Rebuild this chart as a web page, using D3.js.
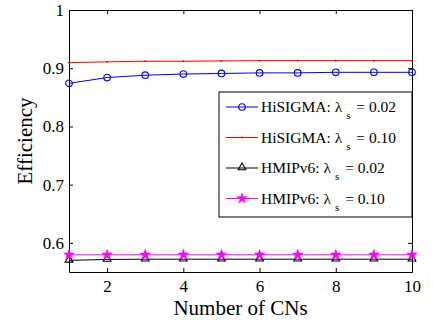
<!DOCTYPE html>
<html>
<head>
<meta charset="utf-8">
<script src="https://cdn.jsdelivr.net/npm/d3@7"></script>
<style>
  body { margin: 0; background: #fff; }
  svg { display: block; }
  text { font-family: "Liberation Serif", "Times New Roman", serif; fill: #000; }
</style>
</head>
<body>
<div id="chart"></div>
<script>
// data
const cns = [1, 2, 3, 4, 5, 6, 7, 8, 9, 10];
const hisigma002 = [0.874, 0.884, 0.888, 0.890, 0.891, 0.892, 0.892, 0.893, 0.893, 0.893];
const hisigma010 = [0.9095, 0.911, 0.912, 0.912, 0.9125, 0.913, 0.913, 0.913, 0.913, 0.913];
const hmip002 = [0.570, 0.5715, 0.572, 0.572, 0.572, 0.572, 0.572, 0.572, 0.572, 0.572];
const hmip010 = [0.5795, 0.5795, 0.5795, 0.5795, 0.5795, 0.5795, 0.5795, 0.5795, 0.5795, 0.5795];

const xTicks = [2, 4, 6, 8, 10];
const yTicks = [0.6, 0.7, 0.8, 0.9, 1];
const yTickLabels = ["0.6", "0.7", "0.8", "0.9", "1"];

const seriesNames = ["HiSIGMA", "HiSIGMA", "HMIPv6", "HMIPv6"];
const seriesLambdas = ["0.02", "0.10", "0.02", "0.10"];

const W = 433, H = 320;
const margin = { top: 10, right: 21, bottom: 48, left: 69 };
const width = W - margin.left - margin.right,
    height = H - margin.top - margin.bottom;

const svg = d3.select('#chart').append('svg')
    .attr('width', W)
    .attr('height', H);

const main = svg.append('g')
    .attr('transform', 'translate(' + margin.left + ',' + margin.top + ')');

const x = d3.scaleLinear().domain([1, 10]).range([0, width]);
const y = d3.scaleLinear().domain([0.55, 1]).range([height, 0]);

// axes: ticks point inward, box all round like matlab
const tick = 4;
const styleAxis = g => {
    g.select('.domain').attr('stroke', '#000').attr('stroke-width', 1);
    g.selectAll('.tick line').attr('stroke', '#000');
    g.selectAll('.tick text').style('font-size', '17px').attr('fill', '#000')
        .style('font-family', '"Liberation Serif", serif');
};

main.append('g')
    .attr('transform', 'translate(0,' + height + ')')
    .call(d3.axisBottom(x).tickValues(xTicks).tickSizeInner(-tick).tickSizeOuter(0).tickPadding(8))
    .call(styleAxis);

main.append('g')
    .call(d3.axisTop(x).tickValues(xTicks).tickSizeInner(-tick).tickSizeOuter(0).tickFormat(''))
    .call(styleAxis);

main.append('g')
    .call(d3.axisLeft(y).tickValues(yTicks).tickSizeInner(-tick).tickSizeOuter(0).tickPadding(5)
        .tickFormat((d, i) => yTickLabels[i]))
    .call(styleAxis);

main.append('g')
    .attr('transform', 'translate(' + width + ',0)')
    .call(d3.axisRight(y).tickValues(yTicks).tickSizeInner(-tick).tickSizeOuter(0).tickFormat(''))
    .call(styleAxis);

// series
const series = [
    { vals: hisigma002, color: '#0000ff', marker: 'circle' },
    { vals: hisigma010, color: '#ff0000', marker: 'point' },
    { vals: hmip002, color: '#000000', marker: 'triangle' },
    { vals: hmip010, color: '#ff00ff', marker: 'star' }
];

const line = d3.line()
    .x((d, i) => x(cns[i]))
    .y(d => y(d));

function drawMarker(g, kind, color, cx, cy) {
    if (kind === 'circle') {
        g.append('circle').attr('cx', cx).attr('cy', cy).attr('r', 3.3)
            .attr('fill', 'none').attr('stroke', color).attr('stroke-width', 1.1);
    } else if (kind === 'point') {
        g.append('circle').attr('cx', cx).attr('cy', cy).attr('r', 1)
            .attr('fill', color);
    } else if (kind === 'triangle') {
        g.append('path').attr('d', d3.symbol(d3.symbolTriangle, 26)())
            .attr('transform', 'translate(' + cx + ',' + (cy - 0.5) + ')')
            .attr('fill', 'none').attr('stroke', color).attr('stroke-width', 1.1);
    } else if (kind === 'star') {
        g.append('path').attr('d', d3.symbol(d3.symbolStar, 34)())
            .attr('transform', 'translate(' + cx + ',' + cy + ')')
            .attr('fill', color).attr('stroke', color).attr('stroke-width', 0.6);
    }
}

series.forEach(s => {
    main.append('path')
        .datum(s.vals)
        .attr('d', line)
        .attr('fill', 'none')
        .attr('stroke', s.color)
        .attr('stroke-width', 1);
    const mg = main.append('g');
    s.vals.forEach((v, i) => drawMarker(mg, s.marker, s.color, x(cns[i]), y(v)));
});

// axis labels
svg.append('text')
    .attr('x', margin.left + width / 2)
    .attr('y', 315)
    .attr('text-anchor', 'middle')
    .style('font-size', '21px')
    .text('Number of CNs');

svg.append('text')
    .attr('transform', 'translate(32,' + (margin.top + height / 2) + ') rotate(-90)')
    .attr('text-anchor', 'middle')
    .style('font-size', '21px')
    .text('Efficiency');

// legend
const lg = svg.append('g').attr('transform', 'translate(219,92)');
lg.append('rect')
    .attr('width', 193).attr('height', 125)
    .attr('fill', '#fff').attr('stroke', '#000').attr('stroke-width', 1);

series.forEach((s, i) => {
    const ry = 15 + i * 30.5;
    lg.append('line')
        .attr('x1', 7).attr('x2', 39).attr('y1', ry).attr('y2', ry)
        .attr('stroke', s.color).attr('stroke-width', 1);
    drawMarker(lg, s.marker, s.color, 23, ry);
    const t = lg.append('text')
        .attr('x', 42).attr('y', ry + 5)
        .style('font-size', '15.5px');
    t.append('tspan').text(seriesNames[i] + ': λ');
    t.append('tspan').attr('dx', 4).attr('dy', 7).style('font-size', '11px').text('s');
    t.append('tspan').attr('dx', 2).attr('dy', -7).text(' = ' + seriesLambdas[i]);
});
</script>
</body>
</html>
